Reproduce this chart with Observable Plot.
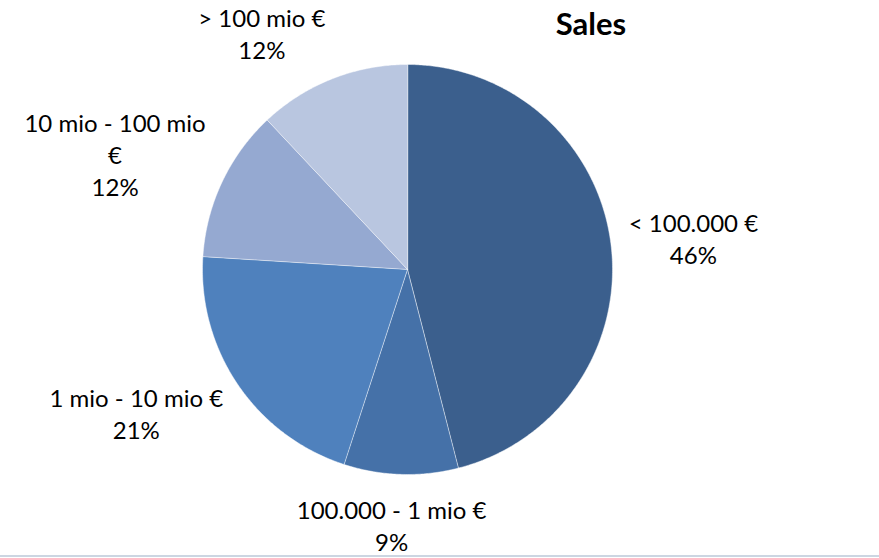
<!DOCTYPE html>
<html>
<head>
<meta charset="utf-8">
<script src="https://cdn.jsdelivr.net/npm/d3@7"></script>
<script src="https://cdn.jsdelivr.net/npm/@observablehq/plot@0.6"></script>
<style>
  html, body { margin: 0; padding: 0; background: #fff; }
  #chart { position: relative; width: 879px; height: 558px; overflow: hidden; background: #fff; }
  #chart svg { position: absolute; left: 0; top: 0; }
  #title { position: absolute; left: 541px; width: 100px; top: 8px; text-align: center;
           font-family: Lato, "Noto Sans", sans-serif; font-weight: 700; font-size: 31px; line-height: 1; color: #000; }
  #bottomline { position: absolute; left: 0; right: 0; top: 555px; height: 2px; background: #ccd6e2; }
</style>
</head>
<body>
<div id="chart"><div id="title"></div><div id="bottomline"></div></div>
<script>
// ---- data ----
const chartTitle = "Sales";
const categories = ["< 100.000 €", "100.000 - 1 mio €", "1 mio - 10 mio €", "10 mio - 100 mio €", "> 100 mio €"];
const shares = [46, 9, 21, 12, 12];
const sliceColors = ["#3b5f8d", "#4571a8", "#4f81bd", "#95a9d1", "#b9c6e0"];

// ---- layout ----
const W = 879, H = 558;
const CX = 407, CY = 269, R = 205;
const FONT = "Lato, 'Noto Sans', sans-serif";
const FONT_SIZE = 24, LINE = 32, PAD = 18, WRAP = 195;

document.getElementById("title").textContent = chartTitle;

const total = d3.sum(shares);
let acc = 0;
const slices = categories.map((c, i) => {
  const a0 = acc / total * 2 * Math.PI;
  acc += shares[i];
  const a1 = acc / total * 2 * Math.PI;
  return {category: c, share: shares[i], a0, a1};
});

// slice outlines (unit circle, y up, clockwise from 12 o'clock)
const pts = slices.flatMap(s => {
  const n = Math.max(2, Math.ceil((s.a1 - s.a0) / (Math.PI / 360)));
  const arr = [{category: s.category, x: 0, y: 0}];
  for (let k = 0; k <= n; k++) {
    const a = s.a0 + (s.a1 - s.a0) * k / n;
    arr.push({category: s.category, x: Math.sin(a), y: Math.cos(a)});
  }
  return arr;
});

// label text wrapping + placement (outside end, box touching a ring around the pie)
const ctx = document.createElement("canvas").getContext("2d");
ctx.font = `${FONT_SIZE}px Lato`;
function wrap(str) {
  const words = str.split(" ");
  const lines = [];
  let cur = "";
  for (const w of words) {
    const t = cur ? cur + " " + w : w;
    if (cur && ctx.measureText(t).width > WRAP) { lines.push(cur); cur = w; } else cur = t;
  }
  if (cur) lines.push(cur);
  return lines;
}
const labels = slices.map(s => {
  const lines = [...wrap(s.category), s.share + "%"];
  const hw = d3.max(lines, l => ctx.measureText(l).width) / 2;
  const hh = lines.length * LINE / 2;
  const mid = (s.a0 + s.a1) / 2;
  const ux = Math.sin(mid), uy = -Math.cos(mid);
  const sx = CX + ux * (R + PAD) + Math.sign(ux) * hw * Math.min(1, 3 * Math.abs(ux));
  const sy = CY + uy * (R + PAD) + uy * hh;
  return {text: lines.join("\n"), x: (sx - CX) / R, y: -(sy - CY) / R};
});

const plot = Plot.plot({
  width: W,
  height: H,
  margin: 0,
  x: {domain: [-1, 1], range: [CX - R, CX + R], axis: null},
  y: {domain: [-1, 1], range: [CY + R, CY - R], axis: null},
  color: {domain: categories, range: sliceColors},
  style: {fontFamily: FONT, background: "transparent", overflow: "visible"},
  marks: [
    Plot.line(pts, {x: "x", y: "y", z: "category", fill: "category", stroke: "#ffffff",
                    strokeOpacity: 0.45, strokeWidth: 1, curve: "linear-closed"}),
    Plot.text(labels, {x: "x", y: "y", text: "text", fontSize: FONT_SIZE, lineHeight: LINE / FONT_SIZE,
                       fill: "#000", textAnchor: "middle", lineAnchor: "middle"})
  ]
});
document.getElementById("chart").appendChild(plot);
</script>
</body>
</html>
